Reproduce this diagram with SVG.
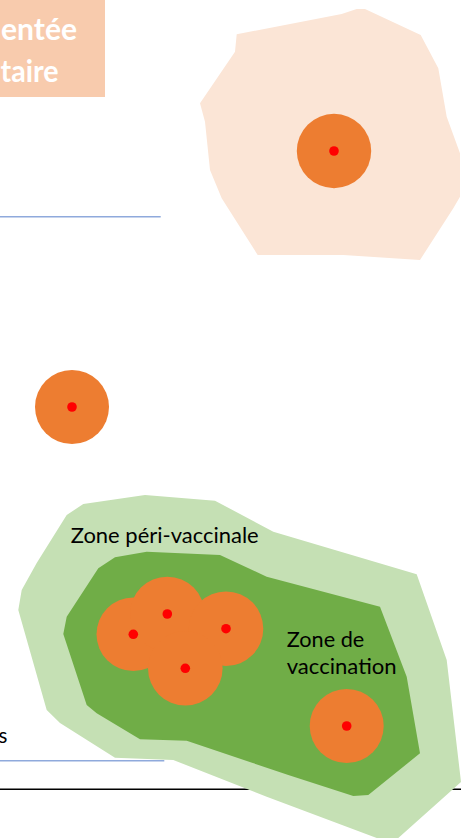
<svg xmlns="http://www.w3.org/2000/svg" width="461" height="838" viewBox="0 0 461 838">
<style>
.zone{fill:#ED7D31}
.foyer{fill:#FF0000}
.lbl{font-family:Lato,"Liberation Sans",sans-serif;font-size:20.5px;fill:#000}
.title{font-family:Lato,"Liberation Sans",sans-serif;font-size:30px;font-weight:bold;fill:#FFFFFF}
.sep{stroke:#8FAADC;stroke-width:1.5}
</style>
<rect width="461" height="838" fill="#FFFFFF"/>
<g id="connectors">
<line class="sep" x1="0" y1="216.7" x2="160.7" y2="216.7"/>
<line class="sep" x1="0" y1="760.7" x2="164.3" y2="760.7"/>
<line x1="0" y1="789.3" x2="461" y2="789.3" stroke="#000" stroke-width="1.6"/>
</g>
<g id="title-box">
<rect x="0" y="0" width="105" height="97" fill="#F8CBAD"/>
<text class="title" x="1" y="39.5" textLength="76" lengthAdjust="spacingAndGlyphs">entée</text>
<text class="title" x="0.5" y="82" textLength="58" lengthAdjust="spacingAndGlyphs">taire</text>
</g>
<g id="zone-reglementee">
<polygon fill="#FBE5D6" points="236.7,34.3 341.7,14 356.7,9 365,9 420.7,35 438.3,68.3 446.7,116.7 460,153.3 460,196.7 453.3,208.3 420,260 343.3,255 257.7,255 221.7,198.3 210,170 205,121.7 200,103.3 235,51.7"/>
<circle class="zone" cx="334" cy="151" r="37.2"/>
<circle class="foyer" cx="334" cy="151" r="4.8"/>
</g>
<g id="foyer-isole">
<circle class="zone" cx="72" cy="407" r="37"/>
<circle class="foyer" cx="72" cy="407" r="4.8"/>
</g>
<g id="zone-peri-vaccinale">
<polygon fill="#C5E0B4" points="83.3,504 145,495 215,500.7 273.3,531.7 416.7,574.3 446.7,660 461,782 398.3,838 376.7,838 266.7,796.7 173.3,760 115,757.7 60,723 46.7,710 18.3,610 21.7,590 36.7,563 66.7,515"/>
<text class="lbl" x="70.7" y="543.3" textLength="188" lengthAdjust="spacingAndGlyphs">Zone péri-vaccinale</text>
</g>
<g id="zone-vaccination">
<polygon fill="#70AD47" points="115,557.3 146.7,551.7 220,555 266.7,576.7 380,606.7 406.7,676.7 420,753.3 368.3,795 353.3,796 288.3,775 186.7,740.7 140,739.3 96.7,713.3 86.7,705 63.3,634 66.7,616.7 98.3,568.3"/>
<text class="lbl" x="286.7" y="646.5" textLength="77.6" lengthAdjust="spacingAndGlyphs">Zone de</text>
<text class="lbl" x="286.7" y="674" textLength="110" lengthAdjust="spacingAndGlyphs">vaccination</text>
</g>
<g id="foyers-groupe">
<circle class="zone" cx="133.3" cy="634.3" r="36.8"/>
<circle class="zone" cx="167.3" cy="614" r="37.3"/>
<circle class="zone" cx="226" cy="628.7" r="37.3"/>
<circle class="zone" cx="185.3" cy="668.3" r="37.3"/>
<circle class="foyer" cx="133.3" cy="634.3" r="4.8"/>
<circle class="foyer" cx="167.3" cy="614" r="4.8"/>
<circle class="foyer" cx="226" cy="628.7" r="4.8"/>
<circle class="foyer" cx="185.3" cy="668.3" r="4.8"/>
</g>
<g id="foyer-vaccination">
<circle class="zone" cx="346.7" cy="726" r="37"/>
<circle class="foyer" cx="346.7" cy="726" r="4.8"/>
</g>
<g id="label-s">
<text class="lbl" x="-1.5" y="743.3">s</text>
</g>
</svg>
